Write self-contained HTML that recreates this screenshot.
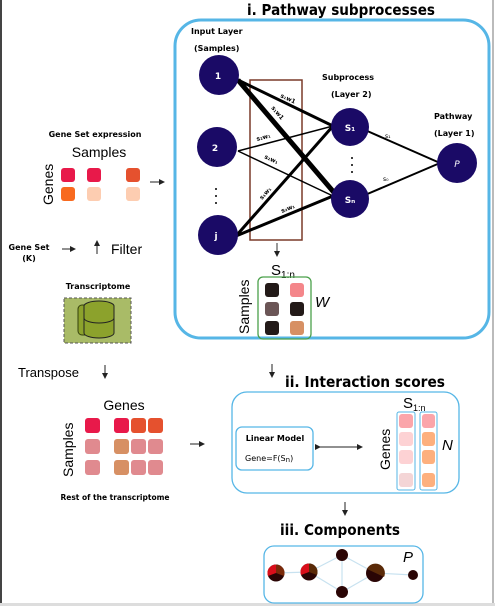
<!DOCTYPE html><html><head><style>body{margin:0;background:#fff}svg{display:block}</style></head><body>
<svg width="495" height="606" viewBox="0 0 495 606" xmlns="http://www.w3.org/2000/svg" font-family="Liberation Sans, DejaVu Sans, sans-serif">
<rect x="0" y="0" width="495" height="606" fill="#fff"/>
<rect x="0" y="0" width="2" height="606" fill="#444"/>
<rect x="492" y="0" width="2" height="606" fill="#bbb"/>
<rect x="0" y="603" width="495" height="3" fill="#ddd"/>
<defs><marker id="a" markerWidth="6" markerHeight="6" refX="5" refY="3" orient="auto"><path d="M0,0L6,3L0,6z" fill="#222"/></marker></defs>
<text x="247" y="15" textLength="188" lengthAdjust="spacingAndGlyphs" font-weight="bold" font-size="15" font-family="DejaVu Sans, sans-serif">i. Pathway subprocesses</text>
<rect x="175" y="20" width="314" height="318" rx="26" fill="none" stroke="#56b6e6" stroke-width="3"/>
<g font-family="DejaVu Sans, sans-serif" font-weight="bold" font-size="8">
<text x="191" y="34">Input Layer</text><text x="194" y="51">(Samples)</text>
<text x="322" y="80">Subprocess</text><text x="331" y="97">(Layer 2)</text>
<text x="434" y="119">Pathway</text><text x="434" y="136">(Layer 1)</text>
</g>
<rect x="250" y="80" width="52" height="160" fill="none" stroke="#7a3a28" stroke-width="1.5"/>
<g stroke="#000">
<line x1="238" y1="80" x2="333" y2="126" stroke-width="3"/>
<line x1="238" y1="80" x2="337" y2="196" stroke-width="5"/>
<line x1="238" y1="151" x2="333" y2="126" stroke-width="1.5"/>
<line x1="238" y1="151" x2="333" y2="196" stroke-width="1.5"/>
<line x1="236" y1="236" x2="333" y2="126" stroke-width="3"/>
<line x1="236" y1="236" x2="333" y2="196" stroke-width="3"/>
<line x1="365" y1="130" x2="440" y2="163" stroke-width="2"/>
<line x1="365" y1="195" x2="440" y2="163" stroke-width="2"/>
</g>
<g fill="#1a0a66">
<circle cx="219" cy="75" r="20"/><circle cx="217" cy="147" r="20"/><circle cx="218" cy="235" r="20"/>
<circle cx="350" cy="127" r="19"/><circle cx="350" cy="199" r="19"/><circle cx="457" cy="163" r="20"/>
</g>
<g fill="#fff" font-weight="bold" font-size="9" text-anchor="middle" font-family="DejaVu Sans, sans-serif">
<text x="218" y="79">1</text><text x="215" y="151">2</text><text x="216" y="239">j</text>
<text x="350" y="131">S₁</text><text x="350" y="203">Sₙ</text><text x="457" y="167" font-style="italic" font-weight="normal">P</text>
</g>
<g font-size="6" font-weight="bold" font-family="DejaVu Sans, sans-serif">
<text x="280" y="97" transform="rotate(25 280 97)">s₁w1</text>
<text x="271" y="108" transform="rotate(50 271 108)">s₁w1</text>
<text x="257" y="141" transform="rotate(-15 257 141)">s₂w₁</text>
<text x="264" y="158" transform="rotate(25 264 158)">s₂w₁</text>
<text x="262" y="200" transform="rotate(-48 262 200)">s₁w₁</text>
<text x="282" y="213" transform="rotate(-22 282 213)">s₂w₁</text>
<text x="385" y="138" font-weight="normal">s₁</text>
<text x="383" y="181" font-weight="normal">s₀</text>
</g>
<g fill="#000"><circle cx="352" cy="158" r="1"/><circle cx="352" cy="165" r="1"/><circle cx="352" cy="172" r="1"/>
<circle cx="216" cy="189" r="1"/><circle cx="216" cy="196" r="1"/><circle cx="216" cy="203" r="1"/></g>
<line x1="277" y1="243" x2="277" y2="256" stroke="#333" marker-end="url(#a)"/>
<text x="271" y="275" font-size="15">S<tspan font-size="10" dy="3">1:n</tspan></text>
<rect x="258" y="277" width="53" height="62" rx="5" fill="none" stroke="#4aa04a" stroke-width="1.3"/>
<text transform="translate(249 334) rotate(-90)" font-size="14">Samples</text>
<text x="315" y="307" font-size="15" font-style="italic">W</text>
<rect x="265" y="283" width="14" height="14" rx="3" fill="#231a18"/><rect x="290" y="283" width="14" height="14" rx="3" fill="#f4868a"/>
<rect x="265" y="302" width="14" height="14" rx="3" fill="#6b5556"/><rect x="290" y="302" width="14" height="14" rx="3" fill="#231a18"/>
<rect x="265" y="321" width="14" height="14" rx="3" fill="#231a18"/><rect x="290" y="321" width="14" height="14" rx="3" fill="#d79064"/>

<text x="95" y="137" text-anchor="middle" font-weight="bold" font-size="8" font-family="DejaVu Sans, sans-serif">Gene Set expression</text>
<text x="99" y="157" text-anchor="middle" font-size="14">Samples</text>
<text transform="translate(53 205) rotate(-90)" font-size="14">Genes</text>
<rect x="61" y="168" width="14" height="14" rx="3" fill="#e8194a"/><rect x="87" y="168" width="14" height="14" rx="3" fill="#e8194a"/><rect x="126" y="168" width="14" height="14" rx="3" fill="#e5512e"/>
<rect x="61" y="187" width="14" height="14" rx="3" fill="#f86a1f"/><rect x="87" y="187" width="14" height="14" rx="3" fill="#fdcdb1"/><rect x="126" y="187" width="14" height="14" rx="3" fill="#fdcdb1"/>
<line x1="150" y1="182" x2="164" y2="182" stroke="#222" marker-end="url(#a)"/>
<g font-weight="bold" font-size="8" font-family="DejaVu Sans, sans-serif" text-anchor="middle"><text x="29" y="250">Gene Set</text><text x="29" y="261">(K)</text>
<text x="98" y="289">Transcriptome</text></g>
<line x1="62" y1="249" x2="75" y2="249" stroke="#222" marker-end="url(#a)"/>
<line x1="97" y1="254" x2="97" y2="241" stroke="#222" marker-end="url(#a)"/>
<text x="111" y="254" font-size="14">Filter</text>
<rect x="64" y="298" width="67" height="45" fill="#a9bb67" stroke="#555" stroke-dasharray="3 2"/>
<rect x="78" y="305" width="30" height="30" rx="4" fill="#8ca22c" stroke="#34400c"/>
<ellipse cx="99" cy="306" rx="15" ry="5" fill="#8ca22c" stroke="#222"/>
<path d="M84 306V333A15 5 0 0 0 114 333V306" fill="#8ca22c" stroke="#222"/>
<path d="M84 318A15 5 0 0 0 114 318" fill="none" stroke="#222"/>

<text x="18" y="377" font-size="13">Transpose</text>
<line x1="105" y1="365" x2="105" y2="378" stroke="#222" marker-end="url(#a)"/>
<line x1="272" y1="364" x2="272" y2="377" stroke="#222" marker-end="url(#a)"/>
<text x="124" y="410" text-anchor="middle" font-size="14">Genes</text>
<text transform="translate(73 477) rotate(-90)" font-size="14">Samples</text>
<g>
<rect x="85" y="418" width="15" height="15" rx="3" fill="#e8194a"/><rect x="114" y="418" width="15" height="15" rx="3" fill="#e8194a"/><rect x="131" y="418" width="15" height="15" rx="3" fill="#e5512e"/><rect x="148" y="418" width="15" height="15" rx="3" fill="#e5512e"/>
<rect x="85" y="439" width="15" height="15" rx="3" fill="#e08a8f"/><rect x="114" y="439" width="15" height="15" rx="3" fill="#d79064"/><rect x="131" y="439" width="15" height="15" rx="3" fill="#e08a8f"/><rect x="148" y="439" width="15" height="15" rx="3" fill="#e08a8f"/>
<rect x="85" y="460" width="15" height="15" rx="3" fill="#e08a8f"/><rect x="114" y="460" width="15" height="15" rx="3" fill="#d79064"/><rect x="131" y="460" width="15" height="15" rx="3" fill="#e08a8f"/><rect x="148" y="460" width="15" height="15" rx="3" fill="#e08a8f"/>
</g>
<text x="115" y="500" text-anchor="middle" font-weight="bold" font-size="7.5" font-family="DejaVu Sans, sans-serif">Rest of the transcriptome</text>
<line x1="190" y1="444" x2="204" y2="444" stroke="#222" marker-end="url(#a)"/>

<text x="285" y="387" textLength="160" lengthAdjust="spacingAndGlyphs" font-weight="bold" font-size="15" font-family="DejaVu Sans, sans-serif">ii. Interaction scores</text>
<rect x="232" y="392" width="227" height="101" rx="15" fill="none" stroke="#56b6e6" stroke-width="1.3"/>
<rect x="236" y="427" width="77" height="43" rx="6" fill="none" stroke="#56b6e6" stroke-width="1.3"/>
<text x="275" y="441" text-anchor="middle" font-weight="bold" font-size="8" font-family="DejaVu Sans, sans-serif">Linear Model</text>
<text x="245" y="461" font-size="8" font-family="DejaVu Sans, sans-serif">Gene=F(S<tspan font-size="7" dy="1">n</tspan><tspan dy="-1">)</tspan></text>
<line x1="320" y1="447" x2="362" y2="447" stroke="#222" marker-end="url(#a)" marker-start="url(#a)"/>
<text transform="translate(390 470) rotate(-90)" font-size="14">Genes</text>
<text x="403" y="408" font-size="15">S<tspan font-size="9" dy="3">1:n</tspan></text>
<text x="442" y="450" font-size="15" font-style="italic">N</text>
<rect x="397" y="412" width="18" height="78" rx="2" fill="none" stroke="#56b6e6"/>
<rect x="420" y="412" width="17" height="78" rx="2" fill="none" stroke="#56b6e6"/>
<rect x="399" y="414" width="14" height="14" rx="3" fill="#fba5aa"/><rect x="399" y="432" width="14" height="14" rx="3" fill="#fdd2d4"/><rect x="399" y="450" width="14" height="14" rx="3" fill="#fdd2d4"/><rect x="399" y="473" width="14" height="14" rx="3" fill="#f4d5d6"/>
<rect x="422" y="414" width="13" height="14" rx="3" fill="#fba5aa"/><rect x="422" y="432" width="13" height="14" rx="3" fill="#fdb07e"/><rect x="422" y="450" width="13" height="14" rx="3" fill="#fdb07e"/><rect x="422" y="473" width="13" height="14" rx="3" fill="#fdb07e"/>
<line x1="345" y1="502" x2="345" y2="515" stroke="#222" marker-end="url(#a)"/>
<text x="280" y="535" textLength="120" lengthAdjust="spacingAndGlyphs" font-weight="bold" font-size="15" font-family="DejaVu Sans, sans-serif">iii. Components</text>
<rect x="264" y="546" width="159" height="57" rx="10" fill="none" stroke="#56b6e6" stroke-width="1.3"/>
<g stroke="#c8e2f0" stroke-width="1.2"><line x1="276" y1="573" x2="309" y2="572"/><line x1="309" y1="572" x2="342" y2="555"/><line x1="309" y1="572" x2="342" y2="592"/><line x1="342" y1="555" x2="342" y2="592"/><line x1="342" y1="555" x2="375" y2="573"/><line x1="342" y1="592" x2="375" y2="573"/><line x1="375" y1="573" x2="413" y2="575"/></g>
<circle cx="276" cy="573" r="8.5" fill="#2a0505"/><path d="M276 573L276 564.5A8.5 8.5 0 0 0 268 576z" fill="#d90e1a"/><path d="M276 573L276 564.5A8.5 8.5 0 0 1 284 576z" fill="#7a2a0a"/>
<circle cx="309" cy="572" r="8.5" fill="#2a0505"/><path d="M309 572L309 563.5A8.5 8.5 0 0 0 301 575z" fill="#d90e1a"/><path d="M309 572L309 563.5A8.5 8.5 0 0 1 317 575z" fill="#5a2a08"/>
<circle cx="342" cy="555" r="6" fill="#2a0505"/><circle cx="342" cy="592" r="6" fill="#2a0505"/>
<circle cx="375" cy="573" r="9" fill="#2a0505"/><path d="M367 569A9 9 0 0 1 384 577z" fill="#5a2a08"/>
<circle cx="413" cy="575" r="5" fill="#2a0505"/>
<text x="403" y="562" font-size="15" font-style="italic">P</text>
</svg></body></html>
